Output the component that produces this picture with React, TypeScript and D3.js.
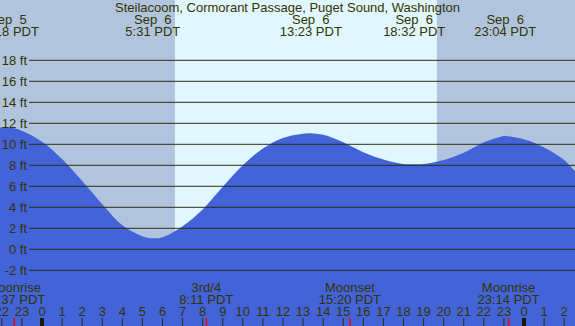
import React from "react";
import * as d3 from "d3";

const W = 575;
const H = 326;

const title = "Steilacoom, Cormorant Passage, Puget Sound, Washington";

// hours relative to Sep 6 00:00 PDT
const tideHours = [-2.09, -1.72, -1, 0, 1, 2, 3, 4, 5, 5.52, 6, 7, 8, 9, 10, 11, 12, 13, 13.38, 14, 15, 16, 17, 18, 18.53, 19, 20, 21, 22, 23, 23.07, 24, 25, 26, 26.55];
const tideFeet = [11.6, 11.65, 11.3, 10.25, 8.6, 6.5, 4.3, 2.3, 1.25, 1.05, 1.15, 2.2, 3.8, 5.95, 8.0, 9.6, 10.6, 11.0, 11.05, 10.9, 10.2, 9.25, 8.55, 8.12, 8.1, 8.12, 8.5, 9.2, 10.2, 10.8, 10.8, 10.48, 9.7, 8.5, 7.4];

const eventHours = [-1.7, 5.517, 13.383, 18.533, 23.067];
const eventDays = ["Sep  5", "Sep  6", "Sep  6", "Sep  6", "Sep  6"];
const eventTimes = ["22:18 PDT", "5:31 PDT", "13:23 PDT", "18:32 PDT", "23:04 PDT"];

const moonHours = [-1.383, 8.183, 15.333, 23.233];
const moonNames = ["Moonrise", "3rd/4", "Moonset", "Moonrise"];
const moonTimes = ["22:37 PDT", "8:11 PDT", "15:20 PDT", "23:14 PDT"];

const sunrise = 6.62;
const sunset = 19.66;

const feetTicks = [18, 16, 14, 12, 10, 8, 6, 4, 2, 0, -2];
const hourTicks = d3.range(-2, 27);

const textColor = "#333300";
const lineColor = "#2e2e10";
const nightColor = "#b0c4de";
const dayColor = "#e0f7ff";
const waterColor = "#4363d8";

export default function App() {
  const x = d3.scaleLinear().domain([0, 24]).range([42, 524]);
  const y = d3.scaleLinear().domain([0, 10]).range([249.3, 144.3]);

  const pts = tideHours.map((h, i) => [h, tideFeet[i]] as [number, number]);
  const area = d3
    .area<[number, number]>()
    .x((d) => x(d[0]))
    .y0(H)
    .y1((d) => y(d[1]))
    .curve(d3.curveCatmullRom.alpha(0.5));

  const font = "'Liberation Sans', Arial, sans-serif";

  return (
    <svg
      width={W}
      height={H}
      style={{ position: "fixed", left: 0, top: 0, display: "block" }}
      fontFamily={font}
      fontSize={13}
    >
      <rect x={0} y={0} width={W} height={H} fill={nightColor} />
      <rect x={x(sunrise)} y={0} width={x(sunset) - x(sunrise)} height={H} fill={dayColor} />
      <path d={area(pts) || ""} fill={waterColor} />

      {feetTicks.map((f) => (
        <g key={f}>
          <line x1={29} x2={W} y1={y(f)} y2={y(f)} stroke={lineColor} strokeWidth={1} />
          <text x={27} y={y(f) + 4.6} textAnchor="end" fill={textColor}>
            {`${f} ft`}
          </text>
        </g>
      ))}

      <text x={W / 2} y={12} textAnchor="middle" fill={textColor}>
        {title}
      </text>
      {eventHours.map((h, i) => (
        <g key={i} fill={textColor} textAnchor="middle">
          <text x={x(h)} y={24} style={{ whiteSpace: "pre" }}>
            {eventDays[i]}
          </text>
          <text x={x(h)} y={36}>
            {eventTimes[i]}
          </text>
        </g>
      ))}

      {moonHours.map((h, i) => (
        <g key={i} fill={textColor} textAnchor="middle">
          <text x={x(h)} y={292}>
            {moonNames[i]}
          </text>
          <text x={x(h)} y={304}>
            {moonTimes[i]}
          </text>
        </g>
      ))}

      {hourTicks.map((h) => {
        const lab = ((h % 24) + 24) % 24;
        const mid = lab === 0;
        return (
          <g key={h}>
            <text x={x(h)} y={316} textAnchor="middle" fill={textColor}>
              {lab}
            </text>
            <line
              x1={x(h)}
              x2={x(h)}
              y1={318}
              y2={H}
              stroke={mid ? "#1a1a00" : lineColor}
              strokeWidth={mid ? 4 : 1}
            />
          </g>
        );
      })}
      {moonHours.map((h, i) => (
        <line key={i} x1={x(h)} x2={x(h)} y1={318} y2={H} stroke="#ff0000" strokeWidth={1.5} />
      ))}
    </svg>
  );
}
